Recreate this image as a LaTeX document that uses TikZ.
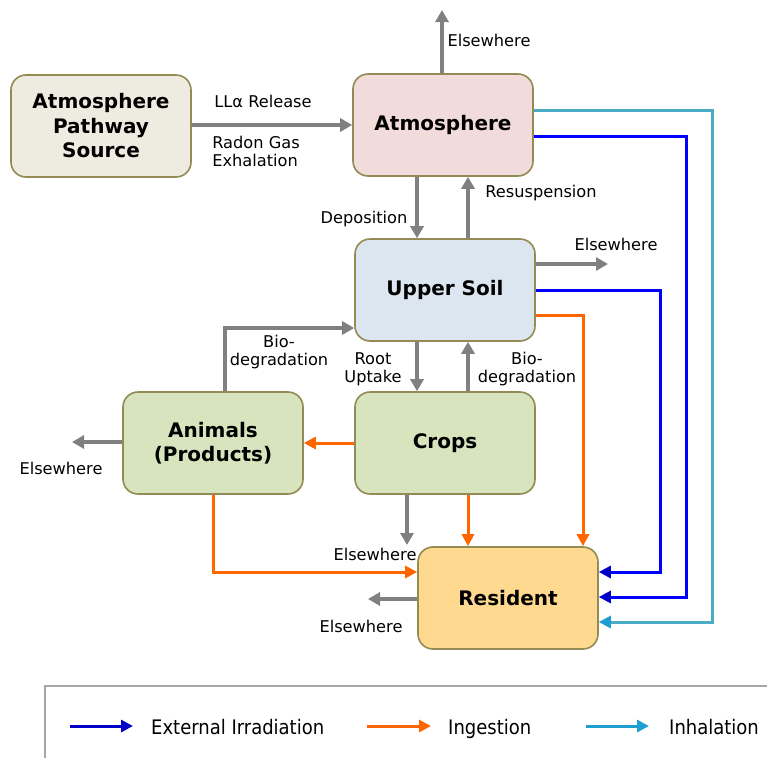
\documentclass[tikz,border=0pt]{standalone}
\usepackage{fontspec}
\setmainfont{DejaVu Sans}
\newfontfamily\keyfont{DejaVu Sans Condensed}
\usetikzlibrary{arrows.meta}

\definecolor{boxline}{HTML}{948A54}
\definecolor{flowgray}{HTML}{808080}
\definecolor{extblue}{HTML}{0000FF}
\definecolor{extbluehead}{HTML}{0000C8}
\definecolor{ingorange}{HTML}{FF6600}
\definecolor{inhcyan}{HTML}{4BACC6}
\definecolor{inhcyanhead}{HTML}{1F9FD0}

\begin{document}
\begin{tikzpicture}[x=1pt, y=-1pt,
		box_style/.style={draw=boxline, line width=1.6pt, rounded corners=15pt,
			minimum width=180pt, minimum height=102pt, align=center,
			font=\fontsize{20}{24.5}\selectfont\bfseries},
		lbl_style/.style={font=\fontsize{16.2}{18}\selectfont, align=center, inner sep=0pt},
		key_style/.style={font=\keyfont\fontsize{20}{22}\selectfont, anchor=base west, inner sep=0pt},
		gray_edge/.style={draw=flowgray, line width=3.5pt, -{Triangle[length=12pt,width=13pt]}},
		blue_edge/.style={draw=extblue, line width=3pt, -{Triangle[length=12pt,width=12pt,color=extbluehead]}},
		orange_edge/.style={draw=ingorange, line width=3pt, -{Triangle[length=12pt,width=12pt]}},
		cyan_edge/.style={draw=inhcyan, line width=3pt, -{Triangle[length=12pt,width=12pt,color=inhcyanhead]}}]
		
		\useasboundingbox (0,0) rectangle (767,758);
		
		\node[box_style, fill={rgb,255:red,238;green,236;blue,225}] (src) at (101,126) {Atmosphere\\Pathway\\Source};
		\node[box_style, fill={rgb,255:red,242;green,220;blue,219}] (atm) at (443,125) {Atmosphere};
		\node[box_style, fill={rgb,255:red,220;green,230;blue,241}] (soil) at (445,290) {Upper Soil};
		\node[box_style, fill={rgb,255:red,215;green,228;blue,189}] (crop) at (445,443) {Crops};
		\node[box_style, fill={rgb,255:red,215;green,228;blue,189}] (anim) at (213,443) {Animals\\(Products)};
		\node[box_style, fill={rgb,255:red,254;green,217;blue,143}] (res) at (508,598) {Resident};
		
		\coordinate (atm_out) at (442,10);
		\coordinate (soil_out) at (608,264);
		\coordinate (anim_out) at (72,442);
		\coordinate (crop_out) at (407,545);
		\coordinate (res_out) at (368,599);
		\coordinate (dep) at (417,0);
		\coordinate (resus) at (468,0);
		\coordinate (anim_up) at (225,328);
		\coordinate (anim_dn) at (213,572);
		\coordinate (soil_ing) at (583,315);
		\coordinate (soil_ext) at (660,572);
		\coordinate (atm_ext) at (686,136);
		\coordinate (atm_ext2) at (686,597);
		\coordinate (atm_inh) at (712,110);
		\coordinate (atm_inh2) at (712,622);
		
		% gray flows
		\draw[gray_edge] (src.east |- atm) -- (atm);
		\draw[gray_edge] (atm.north -| atm_out) -- (atm_out);
		\draw[gray_edge] (atm.south -| dep) -- (soil.north -| dep);
		\draw[gray_edge] (soil.north -| resus) -- (atm.south -| resus);
		\draw[gray_edge] (soil.east |- soil_out) -- (soil_out);
		\draw[gray_edge] (soil.south -| dep) -- (crop.north -| dep);
		\draw[gray_edge] (crop.north -| resus) -- (soil.south -| resus);
		\draw[gray_edge] (anim.north -| anim_up) -- (anim_up) -- (anim_up -| soil.west);
		\draw[gray_edge] (anim.west |- anim_out) -- (anim_out);
		\draw[gray_edge] (crop.south -| crop_out) -- (crop_out);
		\draw[gray_edge] (res.west |- res_out) -- (res_out);
		
		% ingestion
		\draw[orange_edge] (crop) -- (anim);
		\draw[orange_edge] (crop.south -| resus) -- (res.north -| resus);
		\draw[orange_edge] (anim.south -| anim_dn) -- (anim_dn) -- (anim_dn -| res.west);
		\draw[orange_edge] (soil.east |- soil_ing) -| (soil_ing |- res.north);
		
		% external irradiation and inhalation
		\draw[blue_edge] (soil.east) -| (soil_ext) -- (soil_ext -| res.east);
		\draw[blue_edge] (atm.east |- atm_ext) -| (atm_ext2) -- (atm_ext2 -| res.east);
		\draw[cyan_edge] (atm.east |- atm_inh) -| (atm_inh2) -- (atm_inh2 -| res.east);
		
		% labels
		\node[lbl_style] (l_rel) at (263,101) {LLα Release};
		\node[lbl_style, align=left] (l_rad) at (256,151) {Radon Gas\\Exhalation};
		\node[lbl_style] (l_e1) at (489,40) {Elsewhere};
		\node[lbl_style] (l_dep) at (364,219) {Deposition};
		\node[lbl_style] (l_res) at (541,193) {Resuspension};
		\node[lbl_style] (l_e2) at (616,244) {Elsewhere};
		\node[lbl_style] (l_bio1) at (279,352) {Bio-\\degradation};
		\node[lbl_style] (l_root) at (373,369) {Root\\Uptake};
		\node[lbl_style] (l_bio2) at (527,369) {Bio-\\degradation};
		\node[lbl_style] (l_e3) at (61,468) {Elsewhere};
		\node[lbl_style] (l_e4) at (375,554) {Elsewhere};
		\node[lbl_style] (l_e5) at (361,626) {Elsewhere};
		
		% legend
		\draw[draw={rgb,255:red,166;green,166;blue,166}, line width=1.2pt] (45,758) -- (45,686) -- (767,686);
		\node[key_style] (k_ext) at (151,734) {External Irradiation};
		\node[key_style] (k_ing) at (448,734) {Ingestion};
		\node[key_style] (k_inh) at (669,734) {Inhalation};
		\draw[blue_edge, draw=extbluehead] (70,726) -- (133,726);
		\draw[orange_edge] (367,726) -- (431,726);
		\draw[cyan_edge, draw=inhcyanhead] (586,726) -- (649,726);
		
\end{tikzpicture}
\end{document}
